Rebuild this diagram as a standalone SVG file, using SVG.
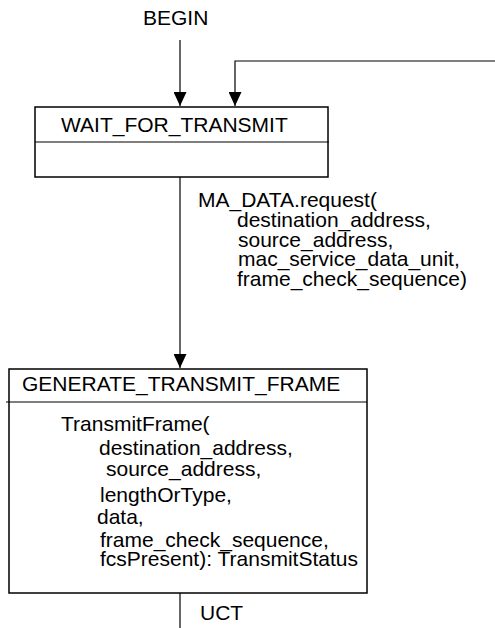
<svg xmlns="http://www.w3.org/2000/svg" width="495" height="628" viewBox="0 0 495 628">
<defs>
<style>
text{font-family:"Liberation Sans",Arial,sans-serif;font-size:21px;fill:#000}
.ln{stroke:#000;stroke-width:1.2;fill:none}
.box{stroke:#000;stroke-width:1.5;fill:#fff}
</style>
<marker id="ah" markerWidth="14" markerHeight="13" refX="14" refY="6.5" orient="auto" markerUnits="userSpaceOnUse">
<path d="M0,0 L14,6.5 L0,13 Z" fill="#000"/>
</marker>
</defs>
<rect width="495" height="628" fill="#fff"/>
<g id="connectors">
<line class="ln" x1="180" y1="40" x2="180" y2="106" marker-end="url(#ah)"/>
<polyline class="ln" points="495,61 235,61 235,106" marker-end="url(#ah)"/>
<line class="ln" x1="180" y1="177" x2="180" y2="368" marker-end="url(#ah)"/>
<line class="ln" x1="180" y1="593" x2="180" y2="628"/>
<text x="143" y="25">BEGIN</text>
<text x="198" y="207">MA_DATA.request(</text>
<text x="237" y="227">destination_address,</text>
<text x="238" y="247">source_address,</text>
<text x="238" y="266">mac_service_data_unit,</text>
<text x="237" y="286">frame_check_sequence)</text>
<text x="200" y="620">UCT</text>
</g>
<g id="wait_for_transmit">
<rect class="box" x="35" y="107" width="293" height="70"/>
<line class="ln" x1="35" y1="142" x2="329" y2="142"/>
<text x="61" y="132">WAIT_FOR_TRANSMIT</text>
</g>
<g id="generate_transmit_frame">
<rect class="box" x="9" y="369" width="358" height="224"/>
<line class="ln" x1="6" y1="402" x2="367" y2="402"/>
<text x="22" y="391">GENERATE_TRANSMIT_FRAME</text>
<text x="61" y="431">TransmitFrame(</text>
<text x="99" y="455">destination_address,</text>
<text x="106" y="476">source_address,</text>
<text x="100" y="502">lengthOrType,</text>
<text x="97" y="524">data,</text>
<text x="100" y="547">frame_check_sequence,</text>
<text x="100" y="566">fcsPresent): TransmitStatus</text>
</g>
</svg>
